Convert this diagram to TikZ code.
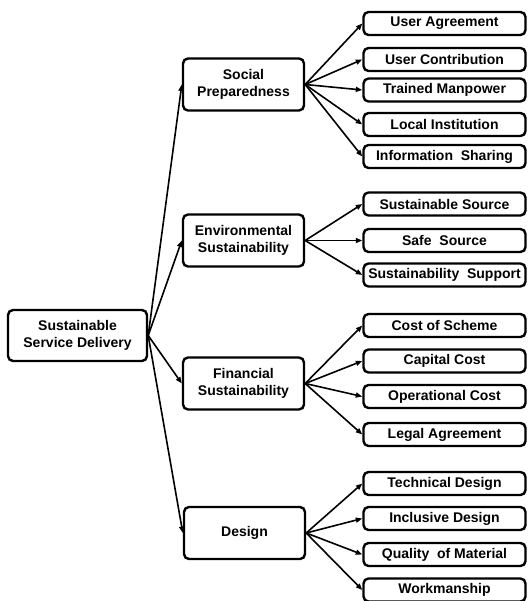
\documentclass[tikz,border=0pt]{standalone}
\usepackage{fontspec}
\setmainfont{Liberation Sans}
\usepackage{tikz}
\usetikzlibrary{positioning,arrows.meta}

\begin{document}
\begin{tikzpicture}[x=1pt, y=-1pt, line width=1.6pt,
    main/.style = {draw, rounded corners=5pt, line width=2.4pt, align=center,
                   font=\fontsize{14}{17}\selectfont\bfseries, inner sep=0pt},
    root/.style = {main, minimum width=139pt, minimum height=51pt},
    group/.style = {main, minimum width=121pt, minimum height=52pt},
    leaf/.style = {main, minimum width=162pt, minimum height=23pt},
    link/.style = {-{Triangle[length=6.5pt,width=5pt]}}]
            \useasboundingbox (0,0) rectangle (528,601);
            % Nodes
            \node[root] (sd) at (77.5,335.5) {Sustainable\\Service Delivery};
            \node[group] (soc) at (243.5,84.5) {Social\\Preparedness};
            \node[group] (env) at (243.5,240.5) {Environmental\\Sustainability};
            \node[group] (fin) at (243.5,383.5) {Financial\\Sustainability};
            \node[group] (des) at (244.5,533) {Design};
            \node[leaf] (ua) at (444.5,23.5) {User Agreement};
            \node[leaf] (uc) at (444.5,59.5) {User Contribution};
            \node[leaf] (tm) at (444.5,90) {Trained Manpower};
            \node[leaf] (li) at (444.5,124.5) {Local Institution};
            \node[leaf] (is) at (444.5,156.5) {Information\ \ Sharing};
            \node[leaf] (ss) at (444.5,204) {Sustainable Source};
            \node[leaf] (sf) at (444.5,240.5) {Safe\ \ Source};
            \node[leaf] (sp) at (444.5,275) {Sustainability\ \ Support};
            \node[leaf] (cs) at (444.5,325.5) {Cost of Scheme};
            \node[leaf] (cc) at (444.5,361) {Capital Cost};
            \node[leaf] (oc) at (444.5,396.5) {Operational Cost};
            \node[leaf] (la) at (444.5,434.5) {Legal Agreement};
            \node[leaf] (td) at (444.5,483.5) {Technical Design};
            \node[leaf] (id) at (444.5,518.5) {Inclusive Design};
            \node[leaf] (qm) at (444.5,554.5) {Quality\ \ of Material};
            \node[leaf] (wm) at (444.5,590) {Workmanship};
            % Edges
            \draw[link] (sd.east) -- (soc.west);
            \draw[link] (sd.east) -- (env.west);
            \draw[link] (sd.east) -- (fin.west);
            \draw[link] (sd.east) -- (des.west);
            \draw[link] (soc.east) -- (ua.west);
            \draw[link] (soc.east) -- (uc.west);
            \draw[link] (soc.east) -- (tm.west);
            \draw[link] (soc.east) -- (li.west);
            \draw[link] (soc.east) -- (is.west);
            \draw[link] (env.east) -- (ss.west);
            \draw[link] (env.east) -- (sf.west);
            \draw[link] (env.east) -- (sp.west);
            \draw[link] (fin.east) -- (cs.west);
            \draw[link] (fin.east) -- (cc.west);
            \draw[link] (fin.east) -- (oc.west);
            \draw[link] (fin.east) -- (la.west);
            \draw[link] (des.east) -- (td.west);
            \draw[link] (des.east) -- (id.west);
            \draw[link] (des.east) -- (qm.west);
            \draw[link] (des.east) -- (wm.west);
\end{tikzpicture}
\end{document}
